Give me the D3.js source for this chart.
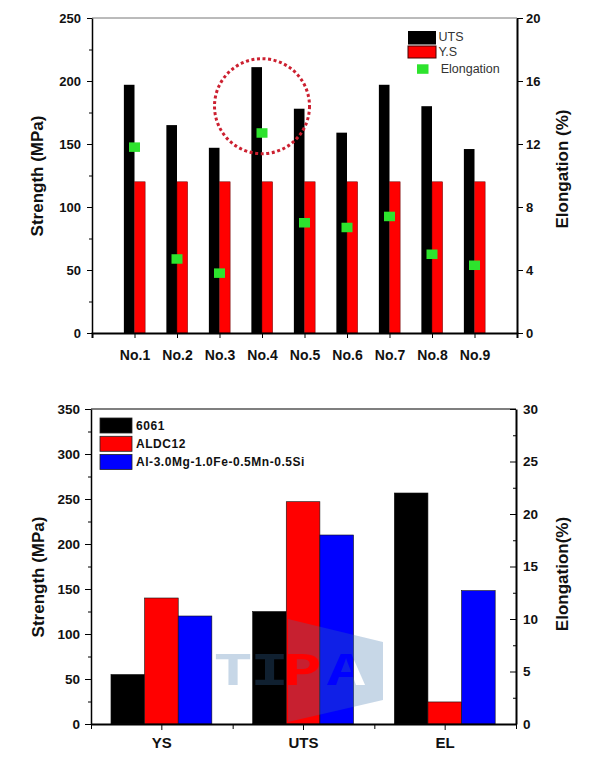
<!DOCTYPE html>
<html><head><meta charset="utf-8">
<script src="https://cdn.jsdelivr.net/npm/d3@7/dist/d3.min.js"></script>
<style>
html,body{margin:0;padding:0;background:#fff;}
svg{display:block;font-family:"Liberation Sans",Arial,sans-serif;}
</style></head>
<body>
<svg id="chart" width="602" height="760"></svg>
<script>
// ---------- Top chart data ----------
const topCats = ["No.1","No.2","No.3","No.4","No.5","No.6","No.7","No.8","No.9"];
const utsVals = [197, 165, 147, 211, 178, 159, 197, 180, 146];
const ysVals  = [120, 120, 120, 120, 120, 120, 120, 120, 120];
const elongVals = [11.8, 4.7, 3.8, 12.7, 7.0, 6.7, 7.4, 5.0, 4.3];
const topLeftTicks = [0, 50, 100, 150, 200, 250];
const topLeftMinor = [25, 75, 125, 175, 225];
const topRightTicks = [0, 4, 8, 12, 16, 20];
const topLegend = ["UTS", "Y.S", "Elongation"];
const circleCat = "No.4", circleVal = 180;

// ---------- Bottom chart data ----------
const props = ["YS", "UTS", "EL"];
const alloys = ["6061", "ALDC12", "Al-3.0Mg-1.0Fe-0.5Mn-0.5Si"];
const vals6061 = [55, 125, 22.0];     // EL on right axis (%)
const valsALDC12 = [140, 247, 2.1];
const valsAlMg = [120, 210, 12.7];
const botLeftTicks = [0, 50, 100, 150, 200, 250, 300, 350];
const botLeftMinor = [25, 75, 125, 175, 225, 275, 325];
const botRightTicks = [0, 5, 10, 15, 20, 25, 30];
const botRightMinor = [2.5, 7.5, 12.5, 17.5, 22.5, 27.5];
const alloyColors = ["#000000", "#ff0000", "#0000ff"];

const svg = d3.select("#chart");
const bold = g => g.selectAll("text").attr("font-weight", "bold").attr("fill", "#111");

// ================= TOP CHART =================
{
  const L = 92, R = 517, T = 18, B = 333;
  const x = d3.scalePoint().domain(topCats).range([L, R]).padding(1);
  const yL = d3.scaleLinear().domain([0, 250]).range([B, T]);
  const yR = d3.scaleLinear().domain([0, 20]).range([B, T]);
  const bw = x.step() * 0.25;
  const g = svg.append("g");

  // top frame
  g.append("line").attr("x1", L).attr("x2", R).attr("y1", T).attr("y2", T)
    .attr("stroke", "#777").attr("stroke-width", 1);

  // bars
  g.selectAll(".uts").data(topCats).join("rect")
    .attr("x", d => x(d) - bw).attr("width", bw)
    .attr("y", (d, i) => yL(utsVals[i])).attr("height", (d, i) => B - yL(utsVals[i]))
    .attr("fill", "#000");
  g.selectAll(".ys").data(topCats).join("rect")
    .attr("x", d => x(d)).attr("width", bw)
    .attr("y", (d, i) => yL(ysVals[i])).attr("height", (d, i) => B - yL(ysVals[i]))
    .attr("fill", "#ff0000").attr("stroke", "#600").attr("stroke-width", 0.5);

  // elongation markers
  g.selectAll(".el").data(topCats).join("rect")
    .attr("x", d => x(d) - 5.5).attr("width", 11)
    .attr("y", (d, i) => yR(elongVals[i]) - 4.75).attr("height", 9.5)
    .attr("fill", "#2de32d");

  // dotted circle annotation
  g.append("circle").attr("cx", x(circleCat)).attr("cy", yL(circleVal)).attr("r", 47.5)
    .attr("fill", "none").attr("stroke", "#cc2030").attr("stroke-width", 3)
    .attr("stroke-dasharray", "3 2.6");

  // axes
  g.append("g").attr("transform", `translate(${L},0)`)
    .call(d3.axisLeft(yL).tickValues(topLeftMinor).tickSize(3).tickFormat("").tickSizeOuter(0))
    .call(a => a.select(".domain").remove());
  g.append("g").attr("transform", `translate(${L},0)`)
    .call(d3.axisLeft(yL).tickValues(topLeftTicks).tickSize(5).tickPadding(6).tickSizeOuter(0))
    .attr("font-size", 13).attr("font-family", "Liberation Sans, Arial").call(bold)
    .call(a => a.select(".domain").attr("stroke-width", 1.5));
  g.append("g").attr("transform", `translate(${R},0)`)
    .call(d3.axisRight(yR).tickValues(topRightTicks).tickSize(6).tickPadding(3).tickSizeOuter(0))
    .attr("font-size", 13).attr("font-family", "Liberation Sans, Arial").call(bold)
    .call(a => a.select(".domain").attr("stroke-width", 2));
  const xa = g.append("g").attr("transform", `translate(0,${B})`)
    .call(d3.axisBottom(x).tickSize(5).tickPadding(12).tickSizeOuter(5))
    .attr("font-size", 14).attr("font-family", "Liberation Sans, Arial").call(bold)
    .call(a => a.select(".domain").attr("stroke-width", 2));

  // titles
  g.append("text").attr("transform", `translate(37,176) rotate(-90)`)
    .attr("text-anchor", "middle").attr("dominant-baseline", "central")
    .attr("font-size", 17).attr("font-weight", "bold").attr("fill", "#111")
    .text("Strength (MPa)");
  g.append("text").attr("transform", `translate(562,169) rotate(-90)`)
    .attr("text-anchor", "middle").attr("dominant-baseline", "central")
    .attr("font-size", 17).attr("font-weight", "bold").attr("fill", "#111")
    .text("Elongation (%)");

  // legend
  const lg = g.append("g");
  lg.append("rect").attr("x", 408).attr("y", 31).attr("width", 28).attr("height", 13.5).attr("fill", "#000");
  lg.append("rect").attr("x", 408).attr("y", 46).attr("width", 28).attr("height", 12)
    .attr("fill", "#ff0000").attr("stroke", "#400").attr("stroke-width", 1);
  lg.append("rect").attr("x", 417).attr("y", 64.3).attr("width", 11.5).attr("height", 9.5).attr("fill", "#2de32d");
  const ly = [40.8, 56.3, 73.3], lx = [438.5, 438.5, 440.7];
  lg.selectAll("text").data(topLegend).join("text")
    .attr("x", (d, i) => lx[i]).attr("y", (d, i) => ly[i])
    .attr("font-size", 12.5).attr("fill", "#333").text(d => d);
}

// ================= BOTTOM CHART =================
{
  const L = 91, R = 516, T = 409, B = 724;
  const x = d3.scaleBand().domain(props).range([L, R]).padding(0);
  const bwid = x.bandwidth();
  const xi = d3.scaleBand().domain(alloys).range([bwid * 0.141, bwid * 0.853]).padding(0);
  const yL = d3.scaleLinear().domain([0, 350]).range([B, T]);
  const yR = d3.scaleLinear().domain([0, 30]).range([B, T]);
  const g = svg.append("g");

  g.append("line").attr("x1", L).attr("x2", R).attr("y1", T).attr("y2", T)
    .attr("stroke", "#000").attr("stroke-width", 1.2);

  const series = [vals6061, valsALDC12, valsAlMg];
  const rows = [];
  props.forEach((p, pi) => alloys.forEach((a, ai) => {
    rows.push({p, a, ai, v: series[ai][pi], right: p === "EL"});
  }));
  g.selectAll(".bar").data(rows).join("rect")
    .attr("x", d => x(d.p) + xi(d.a)).attr("width", xi.bandwidth())
    .attr("y", d => (d.right ? yR : yL)(d.v))
    .attr("height", d => B - (d.right ? yR : yL)(d.v))
    .attr("fill", d => alloyColors[d.ai]).attr("stroke", "#111").attr("stroke-width", 0.6);

  // watermark (decoration)
  const wm = g.append("g").attr("opacity", 0.28).attr("fill", "#3972ab");
  const defs = svg.append("defs");
  const mask = defs.append("mask").attr("id", "wmMask").attr("maskUnits", "userSpaceOnUse")
    .attr("x", 0).attr("y", 0).attr("width", 602).attr("height", 760);
  mask.append("rect").attr("x", 0).attr("y", 0).attr("width", 602).attr("height", 760).attr("fill", "#fff");
  const wmLetters = [["T", 233], ["I", 269.5], ["P", 302.5], ["A", 346]];
  wmLetters.slice(2).forEach(([c, cx]) => {
    mask.append("text").attr("transform", `translate(${cx},685) scale(1.35,1)`)
      .attr("text-anchor", "middle").attr("font-family", "Liberation Mono, Courier New, monospace")
      .attr("font-weight", "bold").attr("font-size", 47).attr("fill", "#000").text(c);
  });
  wm.append("polygon").attr("points", "288,619 383,642 383,700 288,722")
    .attr("mask", "url(#wmMask)");
  wmLetters.slice(0, 2).forEach(([c, cx]) => {
    wm.append("text").attr("transform", `translate(${cx},685) scale(1.35,1)`)
      .attr("text-anchor", "middle").attr("font-family", "Liberation Mono, Courier New, monospace")
      .attr("font-weight", "bold").attr("font-size", 47).text(c);
  });

  // axes
  g.append("g").attr("transform", `translate(${L},0)`)
    .call(d3.axisLeft(yL).tickValues(botLeftMinor).tickSize(3).tickFormat("").tickSizeOuter(0))
    .call(a => a.select(".domain").remove());
  g.append("g").attr("transform", `translate(${L},0)`)
    .call(d3.axisLeft(yL).tickValues(botLeftTicks).tickSize(6).tickPadding(5).tickSizeOuter(0))
    .attr("font-size", 13.5).attr("font-family", "Liberation Sans, Arial").call(bold)
    .call(a => a.select(".domain").attr("stroke-width", 1.5));
  g.append("g").attr("transform", `translate(${R},0)`)
    .call(d3.axisRight(yR).tickValues(botRightMinor).tickSize(-3).tickFormat("").tickSizeOuter(0))
    .call(a => a.select(".domain").remove());
  g.append("g").attr("transform", `translate(${R},0)`)
    .call(d3.axisRight(yR).tickValues(botRightTicks).tickSize(-6).tickPadding(7).tickSizeOuter(0))
    .attr("font-size", 13.5).attr("font-family", "Liberation Sans, Arial").call(bold)
    .call(a => a.select(".domain").attr("stroke-width", 2));
  // x minor ticks at band boundaries
  const xlin = d3.scaleLinear().domain([0, props.length]).range([L, R]);
  g.append("g").attr("transform", `translate(0,${B})`)
    .call(d3.axisBottom(xlin).tickValues(d3.range(0, props.length + 1)).tickSize(5).tickFormat("").tickSizeOuter(0))
    .call(a => a.select(".domain").remove());
  g.append("g").attr("transform", `translate(0,${B})`)
    .call(d3.axisBottom(x).tickSize(6).tickPadding(7).tickSizeOuter(0))
    .attr("font-size", 15).attr("font-family", "Liberation Sans, Arial").call(bold)
    .call(a => a.select(".domain").attr("stroke-width", 2));

  // titles
  g.append("text").attr("transform", `translate(38,577) rotate(-90)`)
    .attr("text-anchor", "middle").attr("dominant-baseline", "central")
    .attr("font-size", 17).attr("font-weight", "bold").attr("fill", "#111")
    .text("Strength (MPa)");
  g.append("text").attr("transform", `translate(562,574) rotate(-90)`)
    .attr("text-anchor", "middle").attr("dominant-baseline", "central")
    .attr("font-size", 17).attr("font-weight", "bold").attr("fill", "#111")
    .text("Elongation(%)");

  // legend
  const lg = g.append("g");
  const boxY = [418, 436.3, 454.5];
  lg.selectAll("rect").data(alloys).join("rect")
    .attr("x", 100).attr("y", (d, i) => boxY[i]).attr("width", 32).attr("height", 15)
    .attr("fill", (d, i) => alloyColors[i]).attr("stroke", "#222").attr("stroke-width", 0.8);
  lg.selectAll("text").data(alloys).join("text")
    .attr("x", 136).attr("y", (d, i) => boxY[i] + 11.5)
    .attr("font-size", 12).attr("font-weight", "bold").attr("letter-spacing", 0.55)
    .attr("fill", "#111").text(d => d);
}
</script>
</body></html>
